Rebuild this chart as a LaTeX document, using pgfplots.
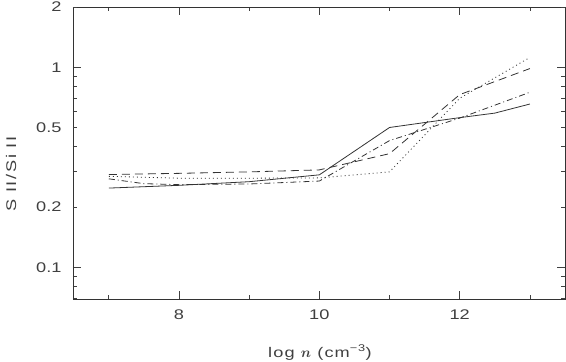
\documentclass[border=0pt]{standalone}
\usepackage{bm}
\usepackage{fontspec}
\setmainfont{Liberation Sans}[FakeStretch=1.3]
\usepackage{pgfplots}
\pgfplotsset{compat=1.18}
\begin{document}
\begin{tikzpicture}[x=1pt,y=1pt]
\path[use as bounding box] (0,0) rectangle (566,362);
\begin{axis}[
  at={(73pt,63pt)}, anchor=south west,
  scale only axis, width=492pt, height=292pt,
  xmin=6.49, xmax=13.5, ymin=0.0695, ymax=2,
  ymode=log,
  tick label style={font=\fontsize{14}{17}\selectfont},
  xtick={8,10,12}, xticklabels={8,10,12},
  minor xtick={7,9,11,13},
  ytick={0.1,1}, yticklabels={0.1,1},
  extra y ticks={0.2,0.5,2}, extra y tick labels={0.2,0.5,2},
  extra y tick style={major tick length=4.3pt},
  minor ytick={0.07,0.08,0.09,0.3,0.4,0.6,0.7,0.8,0.9},
  major tick length=8.5pt, minor tick length=4.3pt,
  tick align=inside,
  tick style={black!75, line width=0.8pt},
  axis line style={black!80, line width=0.9pt},
  xticklabel style={yshift=-7pt, text=black!75},
  yticklabel style={xshift=-8pt, text=black!75},
  every axis x label/.style={at={(axis description cs:0.502,-0.199)}, anchor=base, text=black!75,
    font=\fontsize{14}{17}\selectfont\addfontfeatures{LetterSpace=8}},
  xlabel={log $\bm{n}$ (cm\textsuperscript{−3})},
  every axis plot/.append style={line width=0.8pt, black!80},
]
% solid
\addplot[solid] coordinates {(7,0.249) (8,0.257) (9,0.268) (10,0.29) (11,0.50) (12,0.56) (12.5,0.59) (13,0.655)};
% dashed
\addplot[dash pattern=on 8pt off 5pt] coordinates {(7,0.291) (8,0.295) (9,0.30) (10,0.307) (11,0.37) (12,0.73) (13,0.985)};
% dotted
\addplot[dash pattern=on 1pt off 3pt] coordinates {(7,0.285) (8,0.279) (9,0.279) (10,0.28) (11,0.30) (12,0.70) (13,1.12)};
% dash-dot
\addplot[dash pattern=on 6pt off 3pt on 1pt off 3pt] coordinates {(7,0.277) (7.5,0.262) (8,0.259) (9,0.261) (10,0.27) (11,0.43) (12,0.557) (13,0.75)};
\end{axis}
% y axis label
\node[rotate=90, text=black!75, font=\fontsize{14}{17}\selectfont\addfontfeatures{LetterSpace=12}] at (11,188) {S II/Si II};
\end{tikzpicture}
\end{document}
